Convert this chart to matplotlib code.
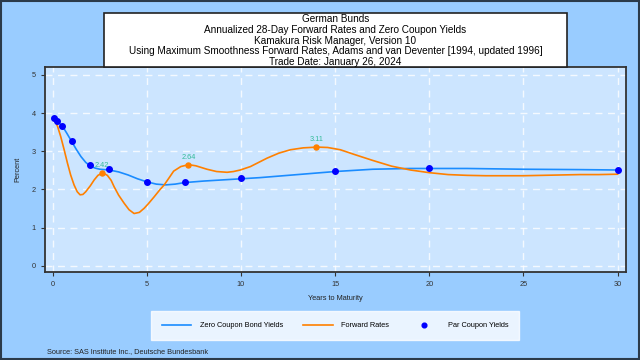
import numpy as np
import matplotlib
matplotlib.use('Agg')
import matplotlib.pyplot as plt
from matplotlib.patches import Rectangle

plt.rcParams['font.family'] = ['Liberation Sans', 'DejaVu Sans']

# par coupon yields (blue dots)
par_t = [0.083, 0.25, 0.5, 1, 2, 3, 5, 7, 10, 15, 20, 30]
par_y = [3.88, 3.79, 3.67, 3.27, 2.63, 2.54, 2.20, 2.20, 2.29, 2.49, 2.55, 2.51]

# zero coupon bond yields
zero_t = [0, 0.083, 0.25, 0.5, 0.75, 1.0, 1.25, 1.5, 1.75, 2.0, 2.25, 2.5, 3.0, 3.5, 4.0,
          4.5, 5.0, 5.5, 6.0, 6.5, 7.0, 8, 9, 10, 11, 12, 13, 14, 15, 16, 17, 18, 19,
          20, 22, 25, 28, 30]
zero_y = [3.90, 3.88, 3.78, 3.67, 3.47, 3.26, 3.05, 2.86, 2.71, 2.61, 2.56, 2.53, 2.51, 2.46, 2.38,
          2.28, 2.20, 2.14, 2.12, 2.14, 2.18, 2.22, 2.25, 2.28, 2.31, 2.35, 2.39, 2.43, 2.47, 2.50, 2.53, 2.54, 2.55,
          2.55, 2.55, 2.53, 2.52, 2.51]

# forward rates
fwd_t = [0, 0.12, 0.25, 0.42, 0.6, 0.78, 0.95, 1.13, 1.3, 1.45, 1.6, 1.75, 2.0, 2.2, 2.4,
         2.6, 2.75, 2.9, 3.1, 3.26, 3.5, 3.79, 4.05, 4.32, 4.6, 4.86, 5.1, 5.39, 5.7, 5.92,
         6.2, 6.42, 6.8, 7.21, 7.6, 8.19, 8.7, 9.26, 9.6, 9.96, 10.5, 11.38, 12.0, 12.62,
         13.3, 14.04, 14.6, 15.28, 16, 17, 18, 19, 20, 21, 22, 23, 24, 25, 26, 27, 28, 29, 30]
fwd_y = [3.84, 3.78, 3.66, 3.39, 3.05, 2.69, 2.38, 2.12, 1.94, 1.86, 1.87, 1.94, 2.10, 2.25, 2.37,
         2.42, 2.41, 2.37, 2.24, 2.07, 1.85, 1.64, 1.47, 1.37, 1.40, 1.51, 1.64, 1.81, 2.00, 2.12,
         2.32, 2.48, 2.60, 2.65, 2.62, 2.53, 2.47, 2.45, 2.47, 2.51, 2.60, 2.82, 2.95, 3.04,
         3.09, 3.11, 3.10, 3.04, 2.92, 2.76, 2.61, 2.51, 2.44, 2.39, 2.37, 2.36, 2.36, 2.36, 2.37, 2.38, 2.39, 2.39, 2.40]

# labelled forward-rate points
lab_t = [2.6, 7.2, 14.0]
lab_y = [2.42, 2.64, 3.11]

fig = plt.figure(figsize=(6.4, 3.6), dpi=100)
fig.patch.set_facecolor('#99CCFF')
fig.patches.append(Rectangle((0.002, 0.003), 0.996, 0.994, transform=fig.transFigure,
                             fill=False, edgecolor='#2B3A4A', lw=1.5))

ax = fig.add_axes([0.0698, 0.2436, 0.9078, 0.5694])
ax.set_facecolor('#CCE5FF')

ax.plot(zero_t, zero_y, color='#1A8CFF', lw=1.2, label='Zero Coupon Bond Yields', zorder=3)
ax.plot(fwd_t, fwd_y, color='#FF8000', lw=1.2, label='Forward Rates', zorder=3)
ax.plot(lab_t, lab_y, 'o', color='#FF8000', ms=3.6, zorder=4)
ax.plot(par_t, par_y, 'o', color='#0000FF', ms=4, lw=0, label='Par Coupon Yields', zorder=5)
for t, y in zip(lab_t, lab_y):
    ax.annotate('%.2f' % y, (t, y), xytext=(0, 3), textcoords='offset points',
                ha='center', va='bottom', fontsize=5.3, color='#33BB99', zorder=4)

ax.set_xlim(-0.43, 30.43)
ax.set_ylim(-0.17, 5.2)
ax.set_xticks([0, 5, 10, 15, 20, 25, 30])
ax.set_yticks([0, 1, 2, 3, 4, 5])
ax.tick_params(labelsize=5.3, colors='#333333', length=3)
ax.grid(color='white', ls=(0, (5, 4)), lw=1, alpha=0.8)
ax.set_axisbelow(True)
for s in ax.spines.values():
    s.set_color('#333333')
    s.set_linewidth(1.3)
ax.set_xlabel('Years to Maturity', fontsize=5.3, color='#222222', labelpad=5)
ax.set_ylabel('Percent', fontsize=5.3, color='#222222', labelpad=7)

# title box
fig.patches.append(Rectangle((104 / 640, 1 - 67 / 360), 463 / 640, 54 / 360,
                             transform=fig.transFigure, facecolor='white',
                             edgecolor='#222222', lw=1.2, zorder=5))
fig.text(335.5 / 640, 1 - 40.5 / 360,
         'German Bunds\nAnnualized 28-Day Forward Rates and Zero Coupon Yields\n'
         'Kamakura Risk Manager, Version 10\n'
         'Using Maximum Smoothness Forward Rates, Adams and van Deventer [1994, updated 1996]\n'
         'Trade Date: January 26, 2024',
         ha='center', va='center', fontsize=7.2, linespacing=1.12, zorder=6)

leg = fig.legend(loc='center', bbox_to_anchor=(335 / 640, 1 - 325.5 / 360), ncol=3,
                 fontsize=5.3, frameon=True, fancybox=False, handlelength=4.0,
                 columnspacing=2.7, handletextpad=1.2, borderpad=1.5, borderaxespad=0,
                 markerscale=0.85)
leg.get_frame().set_facecolor('white')
leg.get_frame().set_edgecolor('white')

fig.text(47 / 640, 1 - 352 / 360, 'Source: SAS Institute Inc., Deutsche Bundesbank',
         ha='left', va='center', fontsize=5.3, color='#222222')

fig.savefig('out.png', dpi=100, facecolor=fig.get_facecolor())
